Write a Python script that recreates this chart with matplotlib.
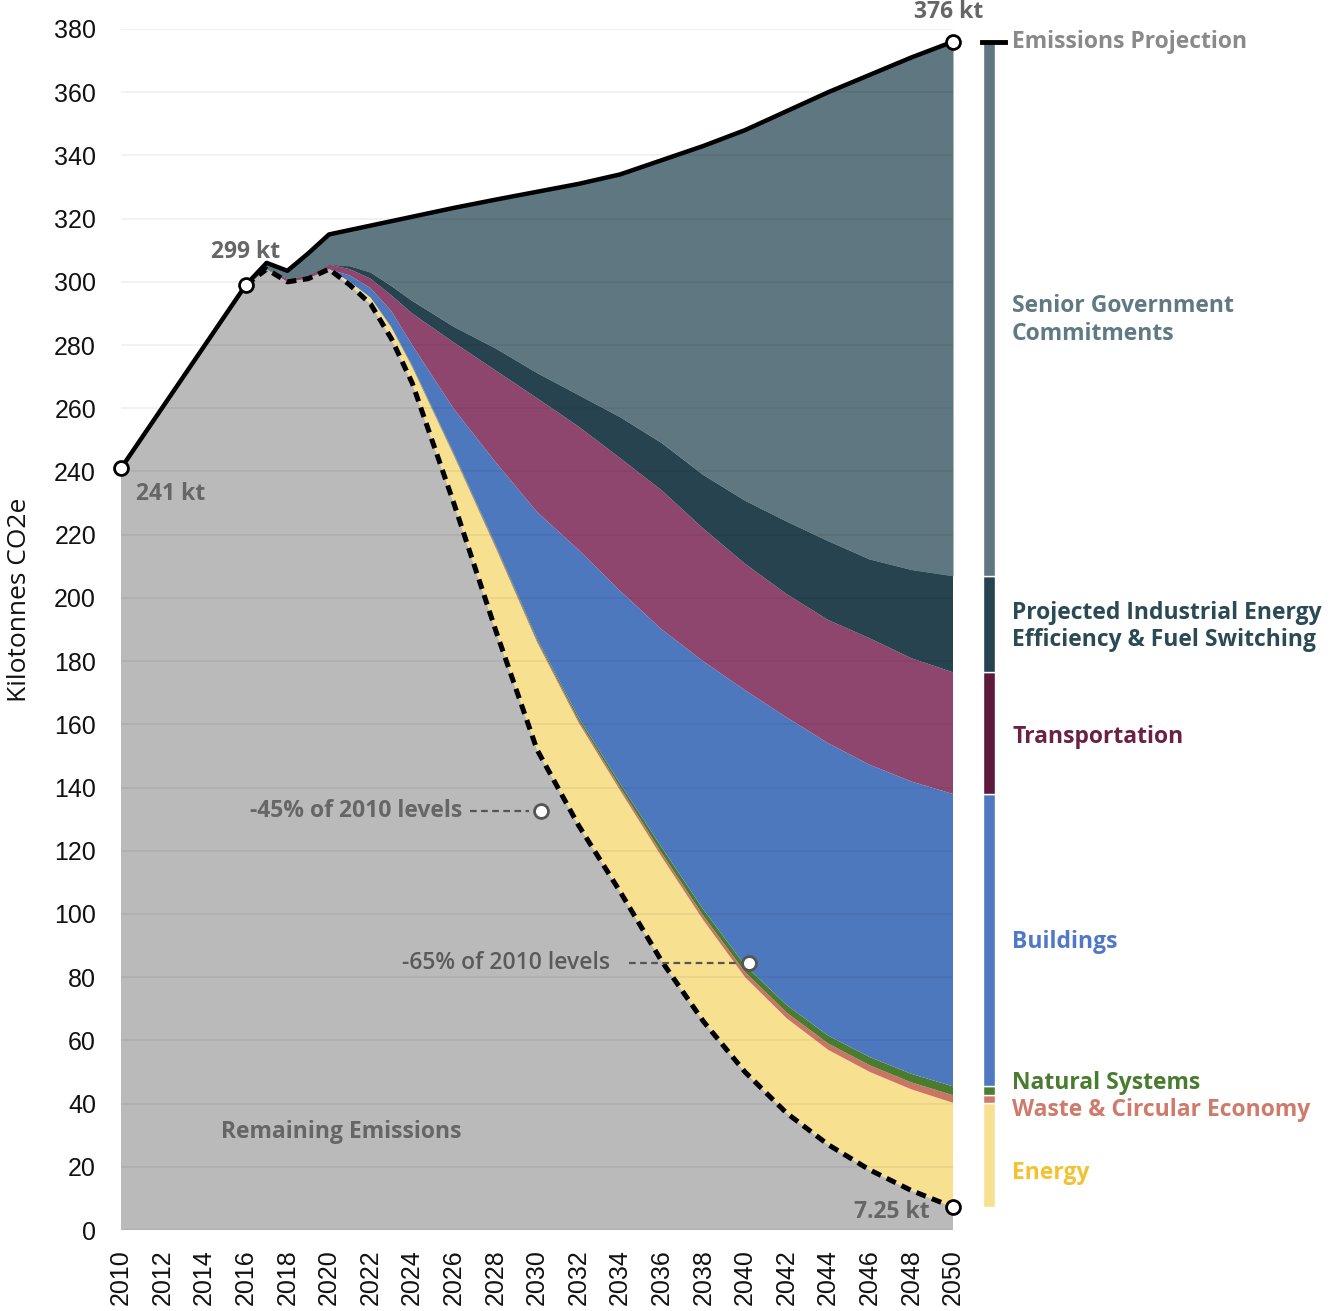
import numpy as np
import matplotlib.pyplot as plt

# years on the x axis (2-year steps after 2024)
years = [2010, 2016, 2017, 2018, 2019, 2020, 2021, 2022, 2023, 2024, 2026, 2028,
         2030, 2032, 2034, 2036, 2038, 2040, 2042, 2044, 2046, 2048, 2050]

# kt CO2e, stacked from the bottom up
remaining = [241, 299, 304, 300, 301, 304, 299, 293, 282, 268, 230, 190,
             152, 128, 107, 85, 66, 50, 37, 27, 19, 12.5, 7.25]
energy = [0, 0, 0, 0, 0, 0, 1, 2, 3.5, 5, 15, 26,
          34, 32.5, 32, 33, 32, 30, 30, 30, 31, 32, 33]
waste = [0, 0, 0, 0, 0, 0, 0, 0, 0.1, 0.2, 0.4, 0.5,
         0.6, 0.8, 1.0, 1.2, 1.4, 1.6, 1.8, 2.0, 2.1, 2.2, 2.4]
natural = [0, 0, 0, 0, 0, 0, 0, 0, 0.1, 0.3, 0.4, 0.5,
           0.6, 0.9, 1.2, 1.8, 2.0, 2.2, 2.4, 2.5, 2.6, 2.7, 2.8]
buildings = [0, 0, 0, 0, 0, 0, 2, 3, 5, 6.5, 14, 26,
             40, 53, 61, 69, 78.5, 87, 91, 92.5, 92.5, 92.5, 92.5]
transport = [0, 0, 0, 1, 1, 1.5, 2, 3, 5, 10, 21, 29,
             36, 39, 42, 44, 42, 40, 39, 39, 40, 39, 38.5]
industrial = [0, 0, 0, 0, 0, 0, 1, 2, 3, 4, 5, 7,
              8, 10, 13, 15, 17, 20, 23, 25, 25, 28, 30.5]
# business-as-usual projection (top line); senior gov. commitments fill the rest
projection = [241, 299, 306, 303.5, 309, 315, 316.4, 317.8, 319.2, 320.6, 323.4, 326,
              328.5, 331, 334, 338.5, 343, 348, 354, 360, 365.5, 371, 376]

baseline_2010 = 241

sector_names = ['Energy', 'Waste & Circular Economy', 'Natural Systems', 'Buildings',
                'Transportation', 'Projected Industrial Energy\nEfficiency & Fuel Switching',
                'Senior Government\nCommitments']
fill_colors = ['#F7E08F', '#C97464', '#4A7C2F', '#4E78BE', '#8E466E', '#26434F', '#5F7780']
bar_colors = ['#F7E08F', '#D07A6C', '#4C7D31', '#4F79C0', '#5D1A3D', '#26434F', '#5F7780']
text_colors = ['#F2C232', '#D07A6C', '#4A7C2F', '#4F79C8', '#6B2146', '#2A4A55', '#5F7A85']
label_y = [18, 38, 46.5, 91, 156, 191, 288]

fig = plt.figure(figsize=(13.32, 13.11), dpi=100)
ax = fig.add_axes([121/1332, 1 - 1230/1311, (953 - 121)/1332, (1230 - 29)/1311])

yrs = np.array(years)
layers = [remaining, energy, waste, natural, buildings, transport, industrial]
ax.stackplot(yrs, *layers, colors=['#BABABA'] + fill_colors[:6], linewidth=0, zorder=1)
stack_top = np.sum(np.array(layers), axis=0)
ax.fill_between(yrs, stack_top, projection, color=fill_colors[6], linewidth=0, zorder=1)

# grid over the fills
for v in range(0, 381, 20):
    ax.axhline(v, color='black', alpha=0.06, lw=1.2, zorder=2)

ax.plot(yrs, projection, color='black', lw=3.2, solid_joinstyle='round', zorder=5)
ax.plot(yrs[1:], remaining[1:], color='black', lw=3.6, dashes=(2, 1.3), zorder=5)

bold = dict(family='Open Sans', weight='bold', fontsize=16.5, color='#666666')

# end point markers
for x, y in [(2010, remaining[0]), (2016, remaining[1]), (2050, projection[-1]), (2050, remaining[-1])]:
    ax.plot(x, y, 'o', ms=10, mfc='white', mec='black', mew=2, zorder=7, clip_on=False)
ax.text(2010.7, 233, f'{remaining[0]:g} kt', ha='left', va='center', **bold)
ax.text(2016, 309.5, f'{remaining[1]:g} kt', ha='center', va='center', **bold)
ax.text(2049.8, 385.5, f'{projection[-1]:g} kt', ha='center', va='center', clip_on=False, **bold)
ax.text(2048.9, 5.8, f'{remaining[-1]:g} kt', ha='right', va='center', **bold)
ax.text(2020.6, 31, 'Remaining Emissions', ha='center', va='center', **bold)

# reduction targets
t45 = baseline_2010 * 0.55
t65 = baseline_2010 * 0.35
ax.plot([2026.8, 2029.6], [t45, t45], color='#555555', lw=1.6, dashes=(3, 2), zorder=6)
ax.plot(2030.2, t45, 'o', ms=10, mfc='white', mec='#555555', mew=2, zorder=7)
ax.text(2026.4, t45, '-45% of 2010 levels', ha='right', va='center', **bold)
ax.plot([2034.4, 2039.7], [t65, t65], color='#555555', lw=1.6, dashes=(3, 2), zorder=6)
ax.plot(2040.2, t65, 'o', ms=10, mfc='white', mec='#555555', mew=2, zorder=7)
ax.text(2033.5, t65, '-65% of 2010 levels', ha='right', va='center',
        family='Open Sans', weight='semibold', fontsize=16.5, color='#5A5A5A')

# legend as a stacked bar of the 2050 values
vals_2050 = [energy[-1], waste[-1], natural[-1], buildings[-1], transport[-1],
             industrial[-1], projection[-1] - stack_top[-1]]
bottom = remaining[-1]
for v, c in zip(vals_2050, bar_colors):
    ax.bar(2051.73, v, bottom=bottom, width=0.58, color=c, edgecolor='white',
           linewidth=1, clip_on=False, zorder=3)
    bottom += v
ax.plot([2051.4, 2052.5], [projection[-1], projection[-1]], color='black', lw=3.5,
        clip_on=False, zorder=4)
ax.text(2052.84, projection[-1], 'Emissions Projection', ha='left', va='center',
        family='Open Sans', weight='bold', fontsize=16.5, color='#8A8A8A', clip_on=False)
for name, c, y in zip(sector_names, text_colors, label_y):
    ax.text(2052.84, y, name, ha='left', va='center', family='Open Sans', weight='bold',
            fontsize=16.5, color=c, linespacing=1.2, clip_on=False)

ax.set_xlim(2010, 2050)
ax.set_ylim(0, 380)
ax.set_yticks(range(0, 381, 20))
ax.set_xticks(range(2010, 2051, 2))
ax.set_xticklabels([str(y) for y in range(2010, 2051, 2)], rotation=90)
ax.tick_params(axis='both', length=0, labelsize=18, labelcolor='#111111')
ax.tick_params(axis='y', pad=18)
ax.tick_params(axis='x', pad=14)
for lab in ax.get_xticklabels() + ax.get_yticklabels():
    lab.set_family('Liberation Sans')
for s in ax.spines.values():
    s.set_visible(False)

fig.text(20/1332, 1 - 600/1311, 'Kilotonnes CO2e', rotation=90, ha='center', va='center',
         family='Open Sans', fontsize=19, color='#111111')

fig.savefig('out.png', dpi=100)
